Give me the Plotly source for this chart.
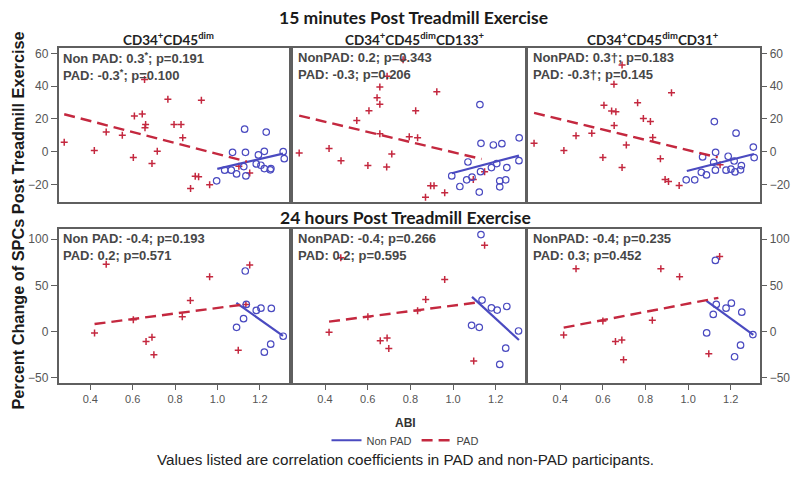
import plotly.graph_objects as go

# ---------------- data ----------------
# Top row: 15 minutes post exercise; bottom row: 24 hours post exercise
panel_titles = ["CD34<sup>+</sup>CD45<sup>dim</sup>",
                "CD34<sup>+</sup>CD45<sup>dim</sup>CD133<sup>+</sup>",
                "CD34<sup>+</sup>CD45<sup>dim</sup>CD31<sup>+</sup>"]
row_titles = ["15 minutes Post Treadmill Exercise", "24 hours Post Treadmill Exercise"]

stats_text = [
    "Non PAD: 0.3<sup>*</sup>; p=0.191<br>PAD: -0.3<sup>*</sup>; p=0.100",
    "NonPAD: 0.2; p=0.343<br>PAD: -0.3; p=0.206",
    "NonPAD: 0.3\u2020; p=0.183<br>PAD: -0.3\u2020; p=0.145",
    "Non PAD: -0.4; p=0.193<br>PAD: 0.2; p=0.571",
    "NonPAD: -0.4; p=0.266<br>PAD: 0.2; p=0.595",
    "NonPAD: -0.4; p=0.235<br>PAD: 0.3; p=0.452",
]

# Panel 1 (15 min, CD34+CD45dim)
abi_pad_1 = [0.277, 0.419, 0.475, 0.551, 0.608, 0.645, 0.603, 0.656, 0.661, 0.658, 0.691, 0.716,
             0.766, 0.795, 0.828, 0.836, 0.924, 0.895, 0.911, 0.873, 0.963, 1.101, 1.152]
chg_pad_1 = [5.7, 0.8, 12.0, 10.1, 21.9, 23.1, -3.6, 44.2, 16.6, 14.6, -7.3, 0.2,
             32.0, 16.6, 16.6, 8.5, 31.4, -15.0, -15.4, -22.5, -20.3, -8.9, -13.0]
abi_non_1 = [0.996, 1.034, 1.065, 1.071, 1.090, 1.124, 1.128, 1.132, 1.134, 1.183, 1.193, 1.205,
             1.221, 1.221, 1.230, 1.252, 1.249, 1.310, 1.315]
chg_non_1 = [-17.8, -11.3, -11.3, -0.4, -13.6, -9.1, 13.8, -0.4, -14.8, -7.5, -2.0, -8.3,
             0.2, -10.3, 12.0, -10.3, -11.1, 0.0, -4.3]

# Panel 2 (15 min, CD34+CD45dimCD133+)
abi_pad_2 = [0.279, 0.419, 0.475, 0.549, 0.606, 0.644, 0.657, 0.657, 0.691, 0.766, 0.657, 0.601,
             0.689, 0.713, 0.795, 0.834, 0.825, 0.924, 0.895, 0.911, 0.871, 0.961, 1.095, 1.148]
chg_pad_2 = [-0.8, 2.0, -5.5, 19.0, 25.1, 33.0, 39.5, 29.0, 46.2, 56.3, 10.9, -8.5,
             -9.3, -1.4, 9.1, 8.5, 25.1, 36.7, -20.9, -20.9, -27.8, -25.1, -17.0, -12.2]
abi_non_2 = [0.994, 1.032, 1.064, 1.070, 1.089, 1.123, 1.126, 1.131, 1.129, 1.180, 1.189, 1.205,
             1.229, 1.219, 1.219, 1.247, 1.252, 1.310, 1.309]
chg_non_2 = [-14.8, -21.3, -17.2, -6.3, -15.6, -24.7, 28.8, 5.1, -12.2, -9.7, 4.1, -7.3,
             4.9, -17.8, -21.5, -17.2, -9.7, 8.5, -5.5]

# Panel 3 (15 min, CD34+CD45dimCD31+)
abi_pad_3 = [0.277, 0.417, 0.474, 0.548, 0.605, 0.641, 0.661, 0.652, 0.690, 0.653, 0.600, 0.710,
             0.690, 0.763, 0.790, 0.823, 0.834, 0.922, 0.870, 0.892, 0.908, 0.958, 1.150]
chg_pad_3 = [5.1, 0.8, 9.7, 11.3, 28.4, 24.9, 24.5, 41.3, 53.1, 16.0, -3.6, 4.1,
             -9.7, 30.0, 20.3, 18.4, 8.7, 36.1, -4.3, -17.0, -18.2, -20.7, -8.0]
abi_non_3 = [0.991, 1.031, 1.062, 1.068, 1.086, 1.120, 1.123, 1.129, 1.128, 1.178, 1.188, 1.201,
             1.216, 1.220, 1.225, 1.246, 1.250, 1.306, 1.310]
chg_non_3 = [-17.2, -17.2, -12.6, -3.2, -14.2, -6.5, 18.4, -0.4, -11.3, -11.3, -2.8, -10.7,
             -5.7, -12.4, 11.3, -11.1, -8.5, 2.8, -3.6]

# Panel 4 (24 h, CD34+CD45dim)
abi_pad_4 = [0.420, 0.475, 0.603, 0.663, 0.691, 0.700, 0.834, 0.872, 0.963, 1.098, 1.152, 1.134]
chg_pad_4 = [-1.4, 72.8, 12.9, -10.8, -6.1, -25.1, 16.1, 33.7, 59.5, -20.1, 72.0, 29.4]
abi_non_4 = [1.090, 1.123, 1.131, 1.136, 1.183, 1.205, 1.221, 1.251, 1.254, 1.310]
chg_non_4 = [4.7, 14.0, 65.6, 29.4, 22.9, 25.4, -22.2, -13.6, 25.1, -5.0]

# Panel 5 (24 h, CD34+CD45dimCD133+)
abi_pad_5 = [0.419, 0.474, 0.601, 0.659, 0.691, 0.699, 0.834, 0.872, 0.961, 1.097, 1.148]
chg_pad_5 = [-0.7, 79.9, 16.1, -10.0, -6.8, -18.3, 22.6, 34.8, 56.3, -31.9, 93.5]
abi_non_5 = [1.087, 1.123, 1.131, 1.136, 1.180, 1.207, 1.252, 1.247, 1.219, 1.307]
chg_non_5 = [6.8, 4.7, 105.0, 34.1, 25.8, 23.3, 27.2, -17.9, -35.5, 0.7]

# Panel 6 (24 h, CD34+CD45dimCD31+)
abi_pad_6 = [0.416, 0.474, 0.600, 0.659, 0.689, 0.697, 0.832, 0.872, 0.960, 1.097, 1.148]
chg_pad_6 = [-3.6, 68.1, 11.5, -10.8, -9.0, -30.5, 12.2, 68.1, 59.5, -24.0, 81.4]
abi_non_6 = [1.087, 1.118, 1.128, 1.132, 1.178, 1.203, 1.252, 1.246, 1.218, 1.304]
chg_non_6 = [-1.4, 18.6, 77.1, 29.4, 25.4, 30.8, 21.1, -14.7, -27.2, -3.2]

# Fitted regression lines (end points)
fit_pad_x = [[0.277, 1.139], [0.279, 1.134], [0.277, 1.139], [0.420, 1.136], [0.419, 1.125], [0.416, 1.142]]
fit_pad_y = [[22.9, -6.1], [22.1, -4.5], [23.7, -3.5], [8.2, 29.7], [10.8, 31.9], [4.3, 36.6]]
fit_non_x = [[0.999, 1.309], [0.994, 1.309], [0.994, 1.309], [1.089, 1.309], [1.089, 1.309], [1.086, 1.306]]
fit_non_y = [[-10.5, -1.2], [-13.2, -2.4], [-11.8, -1.4], [31.2, -4.7], [37.6, -9.0], [33.3, -3.6]]

x_tick_vals = [0.4, 0.6, 0.8, 1.0, 1.2]
x_tick_text = ["0.4", "0.6", "0.8", "1.0", "1.2"]
y_ticks_top = [-20, 0, 20, 40, 60]
y_ticks_bottom = [-50, 0, 50, 100]

# ---------------- styling ----------------
W, H = 800, 480
PAD_COLOR = "#c4283f"
NON_COLOR = "#4a4ac0"
BORDER = "#5f5f5f"
TICK_COL = "#555555"
NARROW = "Liberation Sans Narrow, Arial Narrow, Liberation Sans, Arial, sans-serif"
BOLD_SANS = "Liberation Sans, Arial, sans-serif"
TITLE_FONT = "Lato, Open Sans, sans-serif"

x_dom = [[58.5, 288.5], [293.0, 524.5], [528.3, 759.5]]
y_dom = [[47.0, 202.3], [229.3, 384.5]]
x_range = [0.25, 1.335]
y_range = [[-30.8, 63.6], [-55.7, 111.2]]

pads = [(abi_pad_1, chg_pad_1), (abi_pad_2, chg_pad_2), (abi_pad_3, chg_pad_3),
        (abi_pad_4, chg_pad_4), (abi_pad_5, chg_pad_5), (abi_pad_6, chg_pad_6)]
nons = [(abi_non_1, chg_non_1), (abi_non_2, chg_non_2), (abi_non_3, chg_non_3),
        (abi_non_4, chg_non_4), (abi_non_5, chg_non_5), (abi_non_6, chg_non_6)]

fig = go.Figure()
layout = dict(width=W, height=H, margin=dict(l=0, r=0, t=0, b=0),
              paper_bgcolor="white", plot_bgcolor="white", showlegend=True)

annotations = []
for i in range(6):
    row, col = divmod(i, 3)
    ax = "" if i == 0 else str(i + 1)
    xa, ya = "x" + ax, "y" + ax
    # scatter points
    fig.add_trace(go.Scatter(x=pads[i][0], y=pads[i][1], mode="markers", xaxis=xa, yaxis=ya,
                             marker=dict(symbol="cross-thin", size=5, color=PAD_COLOR,
                                         line=dict(width=1.5, color=PAD_COLOR)),
                             showlegend=False, hoverinfo="skip"))
    fig.add_trace(go.Scatter(x=nons[i][0], y=nons[i][1], mode="markers", xaxis=xa, yaxis=ya,
                             marker=dict(symbol="circle-open", size=6.5, color=NON_COLOR,
                                         line=dict(width=1.2, color=NON_COLOR)),
                             showlegend=False, hoverinfo="skip"))
    # fit lines
    fig.add_trace(go.Scatter(x=fit_non_x[i], y=fit_non_y[i], mode="lines", xaxis=xa, yaxis=ya,
                             line=dict(color=NON_COLOR, width=2.2),
                             name="Non PAD", showlegend=(i == 0), legendrank=1))
    fig.add_trace(go.Scatter(x=fit_pad_x[i], y=fit_pad_y[i], mode="lines", xaxis=xa, yaxis=ya,
                             line=dict(color=PAD_COLOR, width=2.4, dash="11px,6px"),
                             name="PAD", showlegend=(i == 0), legendrank=2))

    xd = [x_dom[col][0] / W, x_dom[col][1] / W]
    yd = [1 - y_dom[row][1] / H, 1 - y_dom[row][0] / H]
    layout["xaxis" + ax] = dict(domain=xd, range=x_range, anchor=ya, showgrid=False, zeroline=False,
                                showline=True, mirror=True, linecolor=BORDER, linewidth=1.5,
                                tickvals=x_tick_vals, ticktext=x_tick_text,
                                ticks="outside" if row == 1 else "", ticklen=5, tickcolor=BORDER,
                                showticklabels=(row == 1),
                                tickfont=dict(family=NARROW, size=11, color=TICK_COL))
    show_y = col in (0, 2)
    layout["yaxis" + ax] = dict(domain=yd, range=y_range[row], anchor=xa, showgrid=False, zeroline=False,
                                showline=True, mirror=True, linecolor=BORDER, linewidth=1.5,
                                tickvals=y_ticks_top if row == 0 else y_ticks_bottom,
                                ticks="outside" if show_y else "", ticklen=6, tickcolor=BORDER,
                                showticklabels=show_y, side="right" if col == 2 else "left",
                                tickfont=dict(family=NARROW, size=12, color=TICK_COL))
    annotations.append(dict(xref=xa + " domain", yref=ya + " domain", x=0.012, y=1.0, yshift=0,
                            xanchor="left", yanchor="top", align="left", showarrow=False,
                            text=stats_text[i],
                            font=dict(family=BOLD_SANS, size=13, color="#474747", weight="bold")))

# panel titles
title_x = [168, 415, 653]
for c in range(3):
    annotations.append(dict(xref="paper", yref="paper", x=title_x[c] / W, y=1 - 38 / H,
                            xanchor="center", yanchor="middle", showarrow=False,
                            text=panel_titles[c],
                            font=dict(family=TITLE_FONT, size=13.5, color="#222222", weight="bold")))
# row titles
annotations.append(dict(xref="paper", yref="paper", x=413 / W, y=1 - 17 / H, xanchor="center",
                        yanchor="middle", showarrow=False, text=row_titles[0],
                        font=dict(family=TITLE_FONT, size=17.5, color="#1a1a1a", weight="bold")))
annotations.append(dict(xref="paper", yref="paper", x=405 / W, y=1 - 218 / H, xanchor="center",
                        yanchor="middle", showarrow=False, text=row_titles[1],
                        font=dict(family=TITLE_FONT, size=17.5, color="#1a1a1a", weight="bold")))
# y axis title
annotations.append(dict(xref="paper", yref="paper", x=18 / W, y=1 - 221 / H, xanchor="center",
                        yanchor="middle", showarrow=False, textangle=-90,
                        text="Percent Change of SPCs Post Treadmill Exercise",
                        font=dict(family=BOLD_SANS, size=16.3, color="#1a1a1a", weight="bold")))
# x axis title
annotations.append(dict(xref="paper", yref="paper", x=406 / W, y=1 - 425 / H, xanchor="center",
                        yanchor="middle", showarrow=False, text="ABI",
                        font=dict(family=NARROW, size=12, color="#333333", weight="bold")))
# footnote
annotations.append(dict(xref="paper", yref="paper", x=406 / W, y=1 - 461 / H, xanchor="center",
                        yanchor="middle", showarrow=False,
                        text="Values listed are correlation coefficients in PAD and non-PAD participants.",
                        font=dict(family=NARROW, size=15.2, color="#222222")))

layout["annotations"] = annotations
layout["legend"] = dict(orientation="h", x=405 / W, xanchor="center", y=1 - 442 / H, yanchor="middle",
                        font=dict(family=NARROW, size=11, color="#444444"),
                        bgcolor="rgba(0,0,0,0)", itemwidth=30, tracegroupgap=0)
fig.update_layout(**layout)

fig.write_html("out.html", config={"displayModeBar": False},
               post_script="document.body.style.margin='0';document.body.style.overflow='hidden';")
